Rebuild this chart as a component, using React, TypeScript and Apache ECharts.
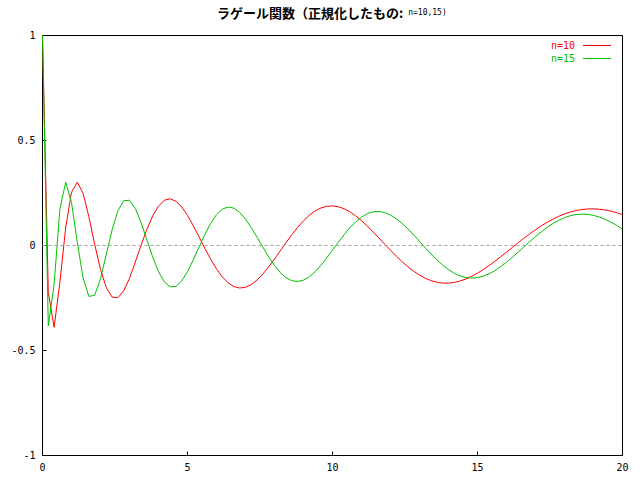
import React, { useEffect, useRef } from "react";
import * as echarts from "echarts";

const titleMain = "ラゲール関数（正規化したもの:";
const titleSub = "n=10,15)";
const seriesNames = ["n=10", "n=15"];
const seriesColors = ["#ff0000", "#00c000"];

const xs = [
  0, 0.2, 0.4, 0.6, 0.8, 1, 1.2, 1.4, 1.6, 1.8,
  2, 2.2, 2.4, 2.6, 2.8, 3, 3.2, 3.4, 3.6, 3.8,
  4, 4.2, 4.4, 4.6, 4.8, 5, 5.2, 5.4, 5.6, 5.8,
  6, 6.2, 6.4, 6.6, 6.8, 7, 7.2, 7.4, 7.6, 7.8,
  8, 8.2, 8.4, 8.6, 8.8, 9, 9.2, 9.4, 9.6, 9.8,
  10, 10.2, 10.4, 10.6, 10.8, 11, 11.2, 11.4, 11.6, 11.8,
  12, 12.2, 12.4, 12.6, 12.8, 13, 13.2, 13.4, 13.6, 13.8,
  14, 14.2, 14.4, 14.6, 14.8, 15, 15.2, 15.4, 15.6, 15.8,
  16, 16.2, 16.4, 16.6, 16.8, 17, 17.2, 17.4, 17.6, 17.8,
  18, 18.2, 18.4, 18.6, 18.8, 19, 19.2, 19.4, 19.6, 19.8,
  20,
];

const n10 = [
  1, -0.2232, -0.39, -0.1751, 0.0855, 0.2541, 0.3012, 0.2487, 0.1367, 0.0054,
  -0.1137, -0.2004, -0.2456, -0.2488, -0.2158, -0.1562, -0.079, 0.0014, 0.0771, 0.1408,
  0.1877, 0.2151, 0.2225, 0.2111, 0.1835, 0.1433, 0.0943, 0.0406, -0.0139, -0.0656,
  -0.1115, -0.1495, -0.1778, -0.1955, -0.2025, -0.199, -0.1858, -0.1642, -0.136, -0.1017,
  -0.0643, -0.0251, 0.0141, 0.0519, 0.0869, 0.1178, 0.1438, 0.1642, 0.1786, 0.1867,
  0.1886, 0.1846, 0.1749, 0.1602, 0.1411, 0.1183, 0.0926, 0.0648, 0.0359, 0.0064,
  -0.0226, -0.0507, -0.0771, -0.1012, -0.1226, -0.141, -0.1559, -0.1673, -0.1749, -0.1788,
  -0.1791, -0.1758, -0.1692, -0.1594, -0.1468, -0.1317, -0.1145, -0.0955, -0.0751, -0.0537,
  -0.0317, -0.0094, 0.0127, 0.0344, 0.0553, 0.0751, 0.0936, 0.1105, 0.1257, 0.139,
  0.1503, 0.1595, 0.1665, 0.1713, 0.174, 0.1745, 0.1728, 0.1692, 0.1637, 0.1563,
  0.1473,
];

const n15 = [
  1, -0.383, -0.1857, 0.175, 0.3007, 0.2049, 0.0151, -0.1547, -0.2426, -0.2367,
  -0.1581, -0.0424, 0.0745, 0.165, 0.2134, 0.2156, 0.1764, 0.1087, 0.0268, -0.055,
  -0.1245, -0.1734, -0.197, -0.1946, -0.1688, -0.1246, -0.0683, -0.0068, 0.0532, 0.1059,
  0.1469, 0.1731, 0.1833, 0.1777, 0.1576, 0.1256, 0.0848, 0.0388, -0.0081, -0.0546,
  -0.0955, -0.1291, -0.1535, -0.1678, -0.1715, -0.1649, -0.149, -0.1249, -0.0945, -0.0596,
  -0.0223, 0.0154, 0.0516, 0.0846, 0.113, 0.1356, 0.1515, 0.1604, 0.1621, 0.1569,
  0.1451, 0.1276, 0.1051, 0.0789, 0.0501, 0.0198, -0.0108, -0.0406, -0.0684, -0.0935,
  -0.1149, -0.1322, -0.1448, -0.1525, -0.1552, -0.1529, -0.146, -0.1347, -0.1195, -0.1009,
  -0.0797, -0.0565, -0.0319, -0.0068, 0.0182, 0.0424, 0.0652, 0.0861, 0.1046, 0.1202,
  0.1327, 0.1418, 0.1475, 0.1496, 0.1483, 0.1436, 0.1357, 0.1249, 0.1114, 0.0958,
  0.0782,
];

const seriesValues = [n10, n15];

const MONO = "DejaVu Sans Mono";

export default function App() {
  const ref = useRef<HTMLDivElement>(null);

  useEffect(() => {
    if (!ref.current) return;
    const chart = echarts.init(ref.current, null, { renderer: "svg" });

    const series: any[] = seriesNames.map((name, si) => ({
      name,
      type: "line",
      data: xs.map((x, i) => [x, seriesValues[si][i]]),
      showSymbol: false,
      symbol: "none",
      z: 3 + si,
      lineStyle: { width: 1, color: seriesColors[si] },
      itemStyle: { color: seriesColors[si] },
      emphasis: { disabled: true },
    }));

    series.push({
      name: "zero",
      type: "line",
      data: [],
      z: 1,
      markLine: {
        silent: true,
        symbol: "none",
        label: { show: false },
        lineStyle: { color: "#a0a0a0", width: 1, type: [3, 3] },
        data: [{ yAxis: 0 }],
      },
    });

    chart.setOption({
      animation: false,
      backgroundColor: "#ffffff",
      title: {
        text: `{a|${titleMain}} {b|${titleSub}}`,
        left: 217,
        top: 3,
        padding: 0,
        textStyle: {
          fontWeight: "normal",
          rich: {
            a: {
              fontFamily: "Noto Sans CJK JP",
              fontWeight: "bold",
              fontSize: 13,
              color: "#000",
              lineHeight: 17,
            },
            b: {
              fontFamily: MONO,
              fontWeight: "normal",
              fontSize: 8,
              color: "#000",
              lineHeight: 17,
            },
          },
        },
      },
      legend: {
        orient: "vertical",
        right: 29,
        top: 39,
        align: "right",
        icon: "rect",
        itemWidth: 28,
        itemHeight: 1,
        itemGap: 0,
        padding: 0,
        selectedMode: false,
        textStyle: {
          fontFamily: MONO,
          fontSize: 10,
          lineHeight: 13,
          padding: [0, 3, 0, 0],
        },
        data: seriesNames.map((name, si) => ({
          name,
          textStyle: { color: seriesColors[si] },
        })),
      },
      grid: {
        left: 42.5,
        right: 17.5,
        top: 35.5,
        bottom: 24.5,
        show: true,
        borderColor: "#000",
        borderWidth: 1,
        backgroundColor: "transparent",
      },
      xAxis: {
        type: "value",
        min: 0,
        max: 20,
        interval: 5,
        axisLine: { show: false, onZero: false },
        axisTick: { inside: true, length: 4, lineStyle: { color: "#000" } },
        splitLine: { show: false },
        axisLabel: { color: "#000", fontFamily: MONO, fontSize: 10, margin: 7 },
      },
      yAxis: {
        type: "value",
        min: -1,
        max: 1,
        interval: 0.5,
        axisLine: { show: false, onZero: false },
        axisTick: { inside: true, length: 4, lineStyle: { color: "#000" } },
        splitLine: { show: false },
        axisLabel: { color: "#000", fontFamily: MONO, fontSize: 10, margin: 7 },
      },
      series,
    });

    return () => chart.dispose();
  }, []);

  return (
    <div
      ref={ref}
      style={{
        position: "fixed",
        left: 0,
        top: 0,
        width: 640,
        height: 480,
        background: "#fff",
      }}
    />
  );
}
